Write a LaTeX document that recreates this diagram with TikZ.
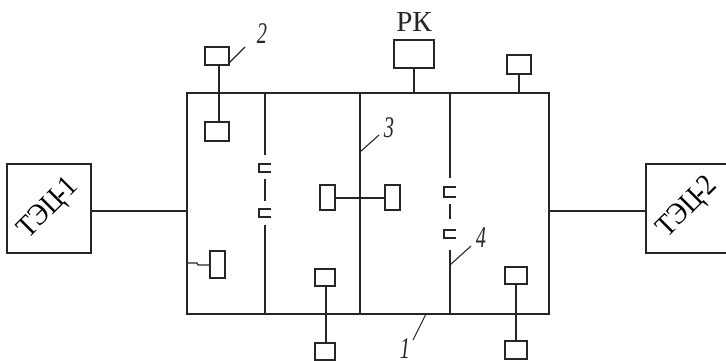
\documentclass[tikz,border=0pt]{standalone}
\usepackage{fontspec}
\setmainfont{Liberation Serif}
\tikzset{
  unit/.style={draw=black!85,line width=1.3pt,inner sep=0pt,outer sep=0pt},
  station/.style={unit,minimum width=84pt,minimum height=89pt},
  wire/.style={draw=black!85,line width=1.3pt},
  lbl/.style={font=\itshape\fontsize{30}{30}\selectfont,text=black!85,inner sep=0pt},
}
\newcommand{\sttext}[1]{\rotatebox{45}{\scalebox{.9}[1]{\fontsize{30}{30}\selectfont ТЭЦ\kern-4pt-\kern-.5pt#1}}}
\newcommand{\numtext}[1]{\scalebox{.68}[1]{#1}}
\begin{document}
\begin{tikzpicture}[x=1pt,y=-1pt]
\useasboundingbox (0,0) rectangle (726,361);
% stations and network frame:
\node[unit,minimum width=362pt,minimum height=221pt] (net) at (368,203.5) {};
\node[station] (tec1) at (49,208.5) {};
\node[inner sep=0pt] (tec1text) at (49,209) {\sttext{1}};
\node[station] (tec2) at (688,208.5) {};
\node[inner sep=0pt] (tec2text) at (688,208) {\sttext{2}};
\node[unit,minimum width=40pt,minimum height=28pt] (rk) at (414,54) {};
\node[inner sep=0pt,font=\fontsize{29}{29}\selectfont,text=black!85] (rktext) at (414,22) {РК};
% small units:
\node[unit,minimum width=24pt,minimum height=18pt] (u1) at (217,56) {};
\node[unit,minimum width=24pt,minimum height=19pt] (u2) at (217,131.5) {};
\node[unit,minimum width=15pt,minimum height=27pt] (u3) at (217.5,264.5) {};
\node[unit,minimum width=20pt,minimum height=17pt] (u4) at (325,277.5) {};
\node[unit,minimum width=20pt,minimum height=17pt] (u5) at (325,351.5) {};
\node[unit,minimum width=15pt,minimum height=25pt] (u6) at (327.5,197.5) {};
\node[unit,minimum width=15pt,minimum height=25pt] (u7) at (392.5,197.5) {};
\node[unit,minimum width=24pt,minimum height=19pt] (u8) at (519,64.5) {};
\node[unit,minimum width=22pt,minimum height=17pt] (u9) at (516,275.5) {};
\node[unit,minimum width=22pt,minimum height=18pt] (u10) at (516,350) {};
% free ends on the frame:
\coordinate (a1) at (265,93);
\coordinate (a2) at (265,155);
\coordinate (a3) at (265,179);
\coordinate (a4) at (265,201);
\coordinate (a5) at (265,225);
\coordinate (a6) at (265,314);
\coordinate (b1) at (360,93);
\coordinate (b2) at (360,314);
\coordinate (c1) at (450,93);
\coordinate (c2) at (450,178);
\coordinate (c3) at (450,204);
\coordinate (c4) at (450,219);
\coordinate (c5) at (450,250);
\coordinate (c6) at (450,314);
% wires:
\draw[wire] (tec1.east |- 0,211) -- (net.west |- 0,211);
\draw[wire] (net.east |- 0,211) -- (tec2.west |- 0,211);
\draw[wire] (rk.south) -- (rk.south |- net.north);
\draw[wire] (u8.south) -- (u8.south |- net.north);
\draw[wire] (u1.south -| 219,0) -- (u2.north -| 219,0);
\draw[wire] (u4.south -| 326,0) -- (u5.north -| 326,0);
\draw[wire] (u9.south) -- (u10.north);
\draw[wire] (u6.east |- 0,198) -- (u7.west |- 0,198);
\draw[wire] (net.west |- 0,263) -- (197,263) -- (198,265) -- (u3.west |- 0,265);
\draw[wire] (a1) -- (a2);
\draw[wire] (a3) -- (a4);
\draw[wire] (a5) -- (a6);
\draw[wire] (b1) -- (b2);
\draw[wire] (c1) -- (c2);
\draw[wire] (c3) -- (c4);
\draw[wire] (c5) -- (c6);
% gaps:
\path[wire] (271,164) -- (259,164) -- (259,172) -- (271,172);
\path[wire] (271,209) -- (259,209) -- (259,217) -- (271,217);
\path[wire] (456,187) -- (444,187) -- (444,197) -- (456,197);
\path[wire] (456,230) -- (444,230) -- (444,238) -- (456,238);
% numbers:
\node[lbl] (n1) at (405,349) {\numtext{1}};
\node[lbl] (n2) at (262,34) {\numtext{2}};
\node[lbl] (n3) at (389,127.5) {\numtext{3}};
\node[lbl] (n4) at (481,238) {\numtext{4}};
\draw[wire,line width=1.1pt] (u1.east |- 0,63) -- (245,47);
\draw[wire,line width=1.1pt] (b1 |- 0,152) -- (379,135);
\draw[wire,line width=1.1pt] (c1 |- 0,265) -- (471,246);
\draw[wire,line width=1.1pt] (net.south -| 426,0) -- (413,340);
\end{tikzpicture}
\end{document}
